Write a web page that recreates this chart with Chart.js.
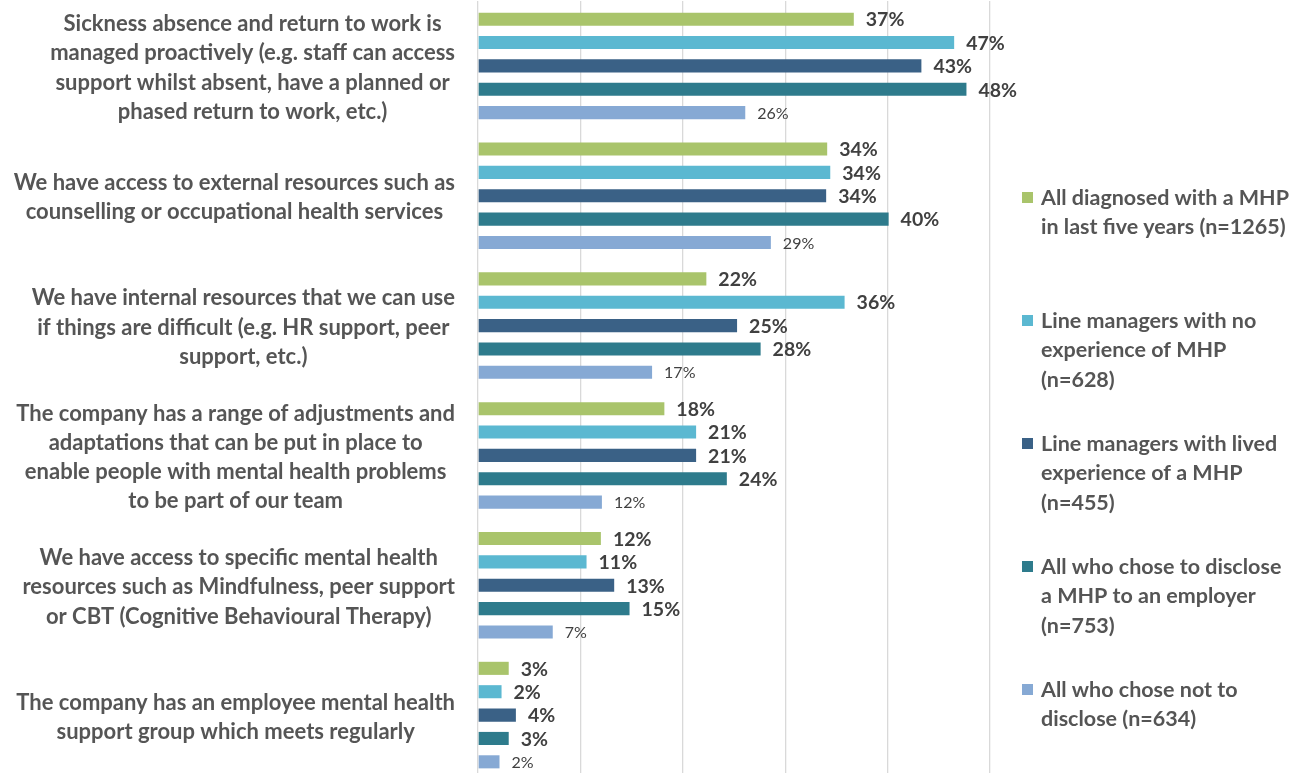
<!DOCTYPE html>
<html>
<head>
<meta charset="utf-8">
<script src="https://cdn.jsdelivr.net/npm/chart.js@4.4.1/dist/chart.umd.min.js"></script>
<style>
  html, body { margin: 0; padding: 0; background: #fff; overflow: hidden; }
  #wrap { position: relative; width: 1306px; height: 782px; }
</style>
</head>
<body>
<div id="wrap"><canvas id="chart"></canvas></div>
<script>
const categories = [
  ['Sickness absence and return to work is', 'managed proactively (e.g. staff can access', 'support whilst absent, have a planned or', 'phased return to work, etc.)'],
  ['We have access to external resources such as', 'counselling or occupational health services'],
  ['We have internal resources that we can use', 'if things are difficult (e.g. HR support, peer', 'support, etc.)'],
  ['The company has a range of adjustments and', 'adaptations that can be put in place to', 'enable people with mental health problems', 'to be part of our team'],
  ['We have access to specific mental health', 'resources such as Mindfulness, peer support', 'or CBT (Cognitive Behavioural Therapy)'],
  ['The company has an employee mental health', 'support group which meets regularly']
];

const seriesNames = [
  ['All diagnosed with a MHP', 'in last five years (n=1265)'],
  ['Line managers with no', 'experience of MHP', '(n=628)'],
  ['Line managers with lived', 'experience of a MHP', '(n=455)'],
  ['All who chose to disclose', 'a MHP to an employer', '(n=753)'],
  ['All who chose not to', 'disclose (n=634)']
];

const allDiagnosed = [36.7, 34.1, 22.3, 18.2, 12.0, 3.0];
const noExperience = [46.5, 34.4, 35.8, 21.3, 10.6, 2.3];
const livedExperience = [43.3, 34.0, 25.3, 21.3, 13.3, 3.7];
const disclosed = [47.7, 40.1, 27.6, 24.3, 14.8, 3.0];
const notDisclosed = [26.1, 28.6, 17.0, 12.1, 7.3, 2.1];

const colours = ['#A9C46B', '#5BB8D1', '#3A6186', '#2E7B8C', '#86A9D4'];
const xTicks = [0, 10, 20, 30, 40, 50];

const seriesValues = [allDiagnosed, noExperience, livedExperience, disclosed, notDisclosed];

const FONT = 'Lato, "Open Sans", sans-serif';

// category labels, each line centred, block right edge at 455
const categoryLabels = {
  id: 'categoryLabels',
  afterDraw(chart) {
    const ctx = chart.ctx;
    const y = chart.scales.y;
    ctx.save();
    ctx.font = 'bold 22px ' + FONT;
    ctx.fillStyle = '#555555';
    ctx.textAlign = 'center';
    ctx.textBaseline = 'middle';
    categories.forEach((lines, i) => {
      const cy = y.getPixelForValue(i) + 2;
      const w = Math.max(...lines.map(l => ctx.measureText(l).width));
      const cx = 455 - w / 2;
      const lh = 29.2;
      const top = cy - (lines.length - 1) * lh / 2;
      lines.forEach((l, k) => ctx.fillText(l, cx, top + k * lh));
    });
    ctx.restore();
  }
};

// value labels at the end of each bar
const valueLabels = {
  id: 'valueLabels',
  afterDatasetsDraw(chart) {
    const ctx = chart.ctx;
    ctx.save();
    ctx.fillStyle = '#404040';
    ctx.textAlign = 'left';
    ctx.textBaseline = 'middle';
    chart.data.datasets.forEach((ds, d) => {
      const meta = chart.getDatasetMeta(d);
      ctx.font = d === 4 ? '16px ' + FONT : 'bold 19.5px ' + FONT;
      meta.data.forEach((bar, i) => {
        ctx.fillText(Math.round(ds.data[i]) + '%', bar.x + 12, bar.y + 1);
      });
    });
    ctx.restore();
  }
};

// legend on the right with wrapped names
const sideLegend = {
  id: 'sideLegend',
  afterDraw(chart) {
    const ctx = chart.ctx;
    ctx.save();
    ctx.font = 'bold 21.5px ' + FONT;
    ctx.textAlign = 'left';
    ctx.textBaseline = 'middle';
    seriesNames.forEach((lines, i) => {
      const y0 = 198 + 123 * i;
      ctx.fillStyle = colours[i];
      ctx.fillRect(1022, y0 - 6, 11, 11);
      ctx.fillStyle = '#555555';
      lines.forEach((l, k) => ctx.fillText(l, 1041, y0 + k * 29.5));
    });
    ctx.restore();
  }
};

const ctx = document.getElementById('chart').getContext('2d');
const chart = new Chart(ctx, {
  type: 'bar',
  data: {
    labels: categories.map(c => c.join(' ')),
    datasets: seriesValues.map((vals, i) => ({
      label: seriesNames[i].join(' '),
      data: vals,
      backgroundColor: colours[i],
      borderWidth: 0,
      barPercentage: 0.56,
      categoryPercentage: 0.9
    }))
  },
  options: {
    indexAxis: 'y',
    responsive: true,
    maintainAspectRatio: false,
    animation: false,
    layout: { padding: { left: 478, right: 316, top: 1, bottom: 2 } },
    plugins: {
      legend: { display: false },
      tooltip: { enabled: false }
    },
    scales: {
      x: {
        min: xTicks[0],
        max: xTicks[xTicks.length - 1],
        afterBuildTicks: s => { s.ticks = xTicks.map(v => ({ value: v })); },
        afterFit: s => { s.height = 0; },
        ticks: { display: false },
        border: { display: false },
        grid: { color: '#D9D9D9', lineWidth: 1.3, drawTicks: false }
      },
      y: {
        display: false
      }
    }
  },
  plugins: [categoryLabels, valueLabels, sideLegend]
});
</script>
</body>
</html>
